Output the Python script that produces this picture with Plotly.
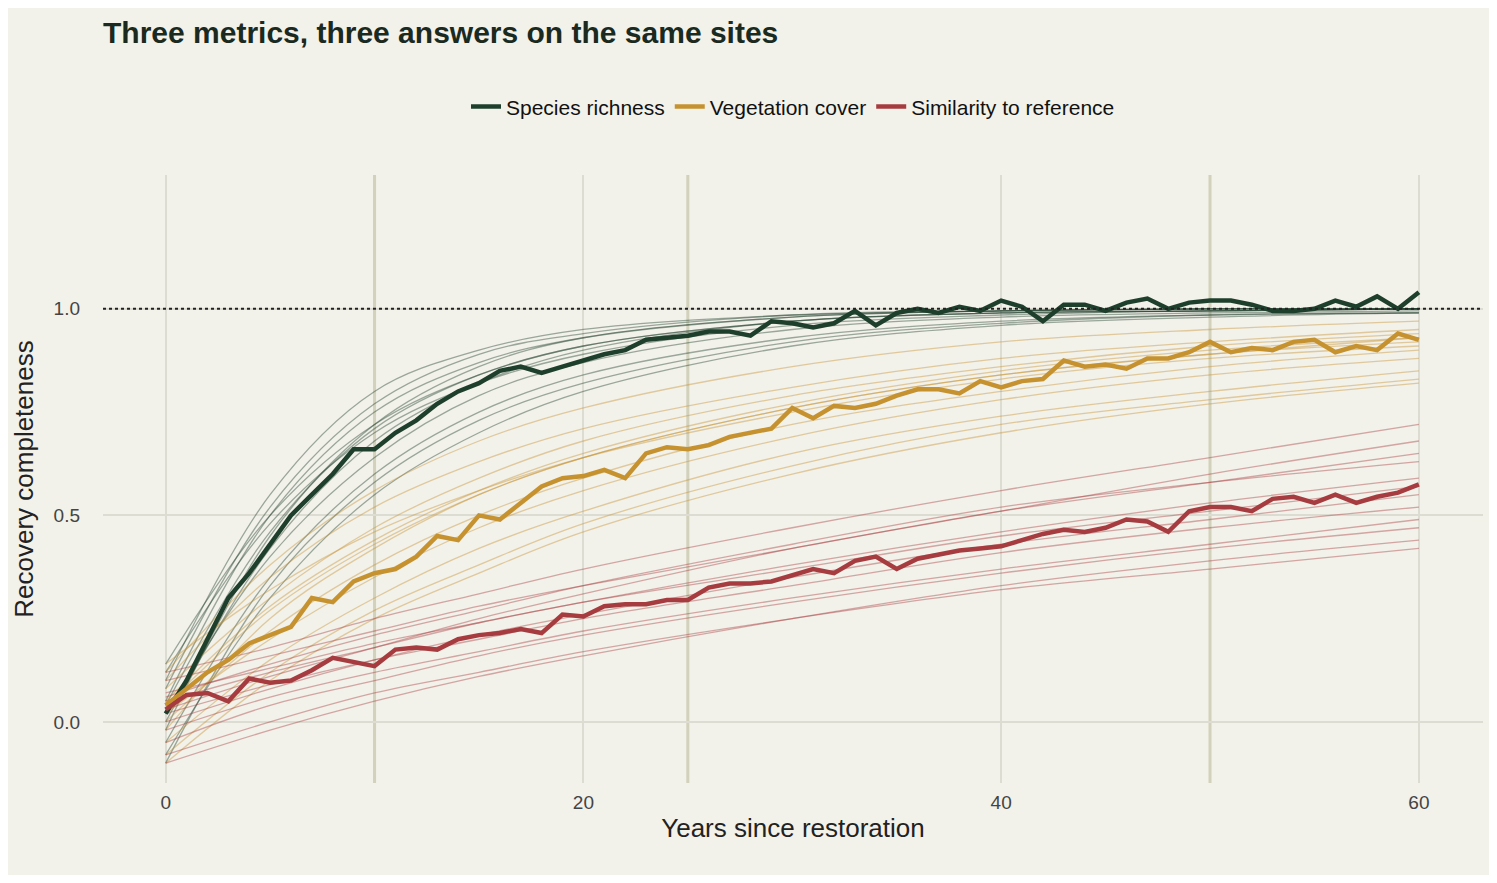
import plotly.graph_objects as go

years = list(range(61))
richness = [0.02,0.1,0.2,0.3,0.36,0.43,0.5,0.55,0.6,0.66,0.66,0.7,0.73,0.77,0.8,0.82,0.85,0.86,0.845,0.86,0.875,0.89,0.9,0.925,0.93,0.935,0.945,0.945,0.935,0.97,0.965,0.955,0.965,0.995,0.96,0.99,1.0,0.99,1.005,0.995,1.02,1.005,0.97,1.01,1.01,0.995,1.015,1.025,1.0,1.015,1.02,1.02,1.01,0.995,0.995,1.0,1.02,1.005,1.03,1.0,1.04]
vegetation = [0.04,0.08,0.12,0.15,0.19,0.21,0.23,0.3,0.29,0.34,0.36,0.37,0.4,0.45,0.44,0.5,0.49,0.53,0.57,0.59,0.595,0.61,0.59,0.65,0.665,0.66,0.67,0.69,0.7,0.71,0.76,0.735,0.765,0.76,0.77,0.79,0.805,0.805,0.795,0.825,0.81,0.825,0.83,0.875,0.86,0.865,0.855,0.88,0.88,0.895,0.92,0.895,0.905,0.9,0.92,0.925,0.895,0.91,0.9,0.94,0.925]
similarity = [0.03,0.065,0.07,0.05,0.105,0.095,0.1,0.125,0.155,0.145,0.135,0.175,0.18,0.175,0.2,0.21,0.215,0.225,0.215,0.26,0.255,0.28,0.285,0.285,0.295,0.295,0.325,0.335,0.335,0.34,0.355,0.37,0.36,0.39,0.4,0.37,0.395,0.405,0.415,0.42,0.425,0.44,0.455,0.465,0.46,0.47,0.49,0.485,0.46,0.51,0.52,0.52,0.51,0.54,0.545,0.53,0.55,0.53,0.545,0.555,0.575]

site_years = [0,5,10,15,20,30,40,50,60]
richness_sites = [
 [0.10,0.55,0.80,0.90,0.95,0.985,0.995,1.0,1.0],
 [0.05,0.50,0.75,0.87,0.93,0.98,0.995,1.0,1.0],
 [0.00,0.42,0.68,0.82,0.90,0.97,0.99,0.995,1.0],
 [-0.05,0.35,0.60,0.75,0.84,0.93,0.97,0.985,0.99],
 [0.12,0.48,0.70,0.82,0.89,0.96,0.985,0.995,1.0],
 [-0.08,0.30,0.55,0.70,0.80,0.91,0.96,0.98,0.99],
 [0.08,0.52,0.77,0.89,0.94,0.985,0.995,1.0,1.0],
 [0.02,0.40,0.64,0.79,0.87,0.95,0.98,0.99,0.995],
 [-0.02,0.45,0.72,0.86,0.93,0.98,0.995,1.0,1.0],
 [0.14,0.50,0.72,0.84,0.91,0.97,0.99,0.995,1.0],
 [-0.10,0.33,0.58,0.73,0.82,0.92,0.965,0.985,0.99],
 [0.04,0.46,0.71,0.84,0.91,0.97,0.99,0.995,1.0],
]
vegetation_sites = [
 [0.10,0.35,0.52,0.63,0.71,0.81,0.88,0.92,0.95],
 [0.05,0.28,0.44,0.56,0.65,0.77,0.85,0.90,0.93],
 [0.00,0.22,0.38,0.50,0.59,0.72,0.80,0.86,0.90],
 [-0.05,0.15,0.30,0.42,0.51,0.65,0.74,0.80,0.85],
 [0.12,0.38,0.56,0.68,0.76,0.86,0.92,0.95,0.97],
 [-0.08,0.12,0.27,0.38,0.48,0.62,0.72,0.78,0.83],
 [0.08,0.30,0.47,0.59,0.68,0.79,0.86,0.91,0.94],
 [0.02,0.20,0.35,0.47,0.56,0.69,0.78,0.84,0.88],
 [-0.02,0.25,0.42,0.55,0.64,0.76,0.84,0.89,0.92],
 [0.14,0.32,0.46,0.56,0.64,0.75,0.83,0.88,0.91],
 [-0.10,0.10,0.25,0.36,0.46,0.60,0.70,0.77,0.82],
 [0.04,0.27,0.43,0.55,0.64,0.76,0.84,0.89,0.93],
]
similarity_sites = [
 [0.05,0.12,0.18,0.24,0.29,0.38,0.46,0.53,0.59],
 [0.00,0.08,0.15,0.21,0.26,0.35,0.43,0.49,0.55],
 [-0.05,0.04,0.10,0.16,0.21,0.29,0.36,0.42,0.47],
 [0.10,0.16,0.22,0.28,0.33,0.42,0.51,0.58,0.65],
 [-0.08,0.00,0.07,0.12,0.17,0.25,0.32,0.37,0.42],
 [0.03,0.11,0.18,0.25,0.31,0.42,0.51,0.60,0.68],
 [0.07,0.13,0.19,0.24,0.29,0.37,0.45,0.51,0.57],
 [-0.02,0.06,0.12,0.17,0.22,0.30,0.37,0.43,0.49],
 [0.12,0.18,0.25,0.31,0.37,0.47,0.56,0.64,0.72],
 [-0.10,-0.02,0.05,0.11,0.16,0.25,0.33,0.39,0.44],
 [0.02,0.09,0.15,0.20,0.25,0.33,0.41,0.47,0.52],
 [0.06,0.14,0.21,0.27,0.33,0.43,0.52,0.58,0.63],
]
names = ["Species richness", "Vegetation cover", "Similarity to reference"]
colors = ["#1e3f2c", "#c6922f", "#a63c3f"]
thin = ["rgba(30,63,44,0.42)", "rgba(198,146,47,0.42)", "rgba(166,60,63,0.42)"]

fig = go.Figure()
for sites, c in zip([richness_sites, vegetation_sites, similarity_sites], thin):
    for s in sites:
        fig.add_trace(go.Scatter(x=site_years, y=s, mode="lines", line=dict(color=c, width=1.3, shape="spline"),
                                 showlegend=False, hoverinfo="skip"))
for vals, n, c in zip([richness, vegetation, similarity], names, colors):
    fig.add_trace(go.Scatter(x=years, y=vals, mode="lines", name=n, line=dict(color=c, width=4.5)))

for xv in [10, 25, 50]:
    fig.add_vline(x=xv, line=dict(color="rgba(170,170,130,0.45)", width=3), layer="below")
fig.add_hline(y=1.0, line=dict(color="#222", width=2, dash="dot"))

fig.update_layout(
    width=1481, height=867,
    paper_bgcolor="#f2f1ea", plot_bgcolor="#f2f1ea",
    font=dict(family="Liberation Sans, Arial", color="#333", size=18),
    title=dict(text="<b>Three metrics, three answers on the same sites</b>", x=95/1481, xanchor="left",
               y=1-24/867, yanchor="middle", font=dict(size=30, color="#1a2a20")),
    legend=dict(orientation="h", x=0.5, xanchor="center", y=1.112, yanchor="middle",
                font=dict(size=21, color="#111"), bgcolor="rgba(0,0,0,0)"),
    margin=dict(l=95, r=6, t=167, b=92),
    xaxis=dict(range=[-3.0, 63.07], tickvals=[0,20,40,60], showgrid=True, gridcolor="#dddcd2", gridwidth=2,
               zeroline=False, ticklabelstandoff=6,
               title=dict(text="Years since restoration", font=dict(size=26, color="#222"), standoff=6),
               tickfont=dict(size=19, color="#444")),
    yaxis=dict(range=[-0.148, 1.324], tickvals=[0,0.5,1.0], ticktext=["0.0","0.5","1.0"], showgrid=True,
               gridcolor="#dddcd2", gridwidth=2, zeroline=False, ticklabelstandoff=22,
               title=dict(text="Recovery completeness", font=dict(size=26, color="#222"), standoff=12),
               tickfont=dict(size=19, color="#444")),
)
fig.write_html("out.html")
